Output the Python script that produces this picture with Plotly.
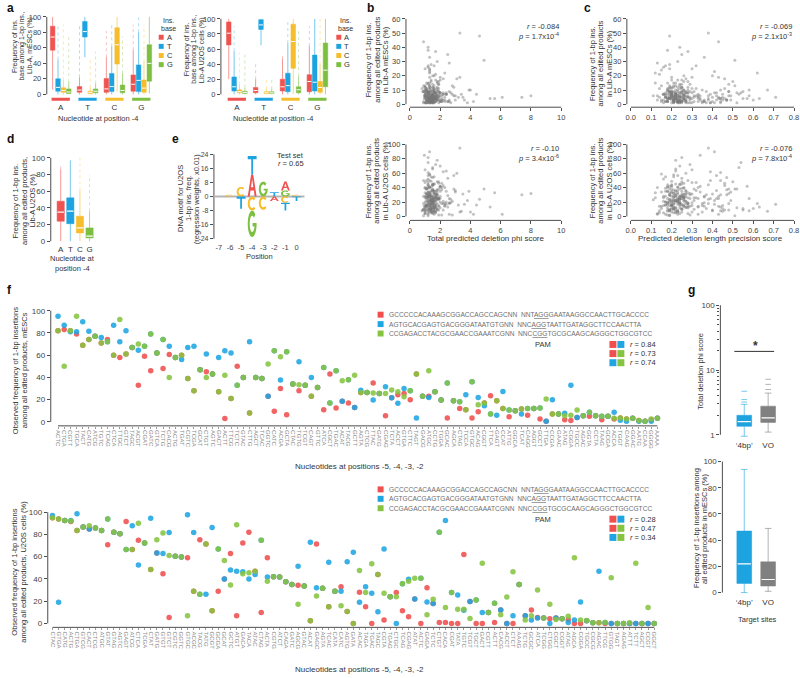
import math
import plotly.graph_objects as go

W, H = 800, 678
FONT = "Liberation Sans, Arial, Helvetica, sans-serif"
AX = "#4d4d4d"
TXT = "#333333"
RED, BLUE, YEL, GRN, GRY = "#EF5350", "#1CA3E0", "#F6BD2C", "#7CBF41", "#808080"
COL = {'A': RED, 'T': BLUE, 'C': YEL, 'G': GRN}
FRED, FBLUE, FGRN = "#EF4F4F", "#1EA5E2", "#86C440"

# ------------------------------------------------------------------ data
NUC = ['A', 'T', 'C', 'G']

# panel a (box statistics, % ; keys = inserted base, lists follow nucleotide at -4: A,T,C,G)
a_mesc_q1 = {'A': [57, 2.5, 2.5, 4], 'T': [4, 74, 3.5, 3.5], 'C': [2.5, 1, 39, 2.5], 'G': [1, 2, 2, 17]}
a_mesc_med = {'A': [74, 5.5, 7, 13], 'T': [9, 81, 10, 18], 'C': [5, 2.5, 64, 8], 'G': [3, 4, 5, 40]}
a_mesc_q3 = {'A': [88, 10, 20.5, 25], 'T': [20, 94, 27, 38], 'C': [8.5, 4, 86, 18.5], 'G': [7, 7, 12, 64]}
a_mesc_lo = {'A': [6, 0, 0, 0], 'T': [0, 48, 0, 0], 'C': [0, 0, 3.5, 0], 'G': [0, 0, 0, 1]}
a_mesc_hi = {'A': [100, 22, 48, 57], 'T': [45, 100, 62, 80], 'C': [18, 9, 100, 42], 'G': [16, 14, 27, 100]}
a_mesc_max = {'A': [100, 90, 82, 90], 'T': [90, 100, 90, 100], 'C': [90, 48, 100, 90], 'G': [78, 55, 75, 100]}

a_u2os_q1 = {'A': [65.5, 2, 4.4, 3.5], 'T': [4.4, 86, 3.5, 4.4], 'C': [2, 1, 34.5, 2.6], 'G': [1, 1, 2, 10]}
a_u2os_med = {'A': [81, 5, 10, 17], 'T': [10, 92, 11.5, 16], 'C': [3.5, 2, 70, 9], 'G': [2.5, 2, 6, 32]}
a_u2os_q3 = {'A': [96, 9, 20, 26], 'T': [23, 99, 28, 52], 'C': [6, 3.5, 93, 17], 'G': [4, 3.5, 10, 68]}
a_u2os_lo = {'A': [20, 0, 0, 0], 'T': [0, 65, 0, 0], 'C': [0, 0, 0, 0], 'G': [0, 0, 0, 0]}
a_u2os_hi = {'A': [100, 20, 47, 64], 'T': [57, 100, 68, 100], 'C': [13, 7, 100, 40], 'G': [9, 7, 24, 100]}
a_u2os_max = {'A': [100, 40, 55, 90], 'T': [90, 100, 100, 100], 'C': [55, 20, 100, 100], 'G': [55, 20, 85, 100]}

# panels b / c : per target site
phi_score = [1.2, 1.5, 0.9, 1.8, 2.3, 1.1, 1.4, 3.1, 1.6, 1.0, 2.0, 1.3, 1.7, 0.8, 2.6, 1.5, 1.2, 4.2, 1.9, 1.4,
             1.1, 1.6, 2.2, 1.3, 0.9, 1.5, 2.8, 1.2, 1.8, 1.0, 1.4, 3.5, 1.7, 1.3, 2.1, 1.6, 0.95, 1.2, 5.3, 1.5,
             1.4, 1.9, 1.1, 2.4, 1.3, 1.6, 1.0, 3.0, 1.5, 1.2, 1.8, 0.85, 2.0, 1.4, 1.7, 6.1, 1.3, 1.1, 2.5, 1.5,
             1.6, 1.2, 1.9, 1.0, 3.3, 1.4, 2.2, 1.3, 1.7, 0.9, 1.5, 2.7, 1.2, 1.8, 1.4, 4.6, 1.1, 1.6, 2.0, 1.3,
             1.5, 1.0, 2.3, 1.7, 1.2, 3.8, 1.4, 1.9, 0.9, 1.6, 1.3, 2.1, 1.5, 1.1, 2.9, 1.4, 1.8, 1.2, 7.4, 1.6,
             1.3, 2.0, 1.5, 1.0, 1.7, 2.6, 1.2, 1.4, 3.2, 1.9, 1.1, 1.6, 2.4, 1.3, 0.95, 1.5, 4.0, 1.8, 1.2, 2.2,
             1.4, 1.7, 1.0, 2.8, 1.5, 1.3, 1.9, 5.6, 1.1, 1.6, 2.1, 1.4, 1.2, 3.6, 1.8, 1.5, 0.9, 2.5, 1.3, 1.7,
             1.6, 1.2, 2.0, 1.4, 3.4, 1.1, 1.5, 2.3, 1.8, 1.0, 1.3, 2.7, 1.6, 4.9, 1.4, 1.2, 1.9, 1.5, 2.2, 1.1,
             1.7, 1.3, 3.0, 1.5, 1.0, 2.0, 1.4, 1.6, 2.6, 1.2, 8.0, 1.8, 1.3, 1.5, 2.4, 1.1, 1.7, 3.9, 1.4, 1.6,
             1.2, 2.1, 1.5, 0.9, 1.8, 2.9, 1.3, 1.6, 1.1, 4.4, 1.4, 2.0, 1.7, 1.2, 3.3, 1.5, 1.0, 2.5, 1.3, 1.9,
             1.3, 1.5, 1.1, 1.7, 1.4, 1.2, 1.6, 1.9, 1.0, 1.5, 1.3, 1.8, 1.4, 1.1, 2.1, 1.6, 1.2, 1.5, 1.7, 1.3,
             1.4, 1.0, 1.6, 1.2, 1.8, 1.5, 1.3, 2.3, 1.1, 1.6, 1.4, 1.7, 1.2, 1.5, 1.9, 1.3, 1.0, 1.6, 1.4, 2.0,
             1.5, 1.2, 1.7, 1.3, 1.1, 1.6, 1.8, 1.4, 1.2, 1.5, 2.2, 1.3, 1.6, 1.0, 1.4, 1.7, 1.2, 1.9, 1.5, 1.1,
             1.6, 1.3, 1.4, 1.8, 1.2, 1.5, 1.0, 1.7, 1.3, 2.4, 1.4, 1.6, 1.1, 1.5, 1.9, 1.2, 1.3, 1.7, 1.4, 1.6,
             1.5, 1.1, 1.8, 1.3, 1.4, 2.0, 1.2, 1.6, 1.0, 1.5, 1.7, 1.3, 1.4, 1.2, 1.6, 2.6, 1.5, 1.1, 1.3, 1.8]
precision = [0.22, 0.18, 0.31, 0.25, 0.45, 0.20, 0.16, 0.27, 0.38, 0.23, 0.52, 0.19, 0.29, 0.14, 0.42, 0.24, 0.21, 0.33, 0.48, 0.17,
             0.26, 0.36, 0.22, 0.12, 0.44, 0.28, 0.19, 0.57, 0.23, 0.30, 0.15, 0.40, 0.25, 0.21, 0.47, 0.18, 0.34, 0.24, 0.63, 0.20,
             0.23, 0.29, 0.17, 0.41, 0.21, 0.26, 0.13, 0.49, 0.22, 0.32, 0.19, 0.55, 0.24, 0.28, 0.16, 0.43, 0.20, 0.35, 0.25, 0.11,
             0.27, 0.21, 0.46, 0.18, 0.30, 0.23, 0.39, 0.15, 0.26, 0.51, 0.20, 0.24, 0.37, 0.22, 0.60, 0.19, 0.28, 0.44, 0.17, 0.25,
             0.21, 0.33, 0.26, 0.14, 0.42, 0.23, 0.19, 0.48, 0.27, 0.22, 0.36, 0.18, 0.53, 0.24, 0.31, 0.20, 0.45, 0.16, 0.29, 0.67,
             0.24, 0.19, 0.38, 0.22, 0.27, 0.13, 0.44, 0.25, 0.20, 0.50, 0.23, 0.30, 0.17, 0.41, 0.26, 0.21, 0.35, 0.58, 0.18, 0.28,
             0.22, 0.40, 0.25, 0.16, 0.47, 0.20, 0.29, 0.23, 0.12, 0.37, 0.26, 0.19, 0.54, 0.24, 0.32, 0.21, 0.43, 0.27, 0.15, 0.49,
             0.20, 0.34, 0.23, 0.18, 0.45, 0.26, 0.22, 0.62, 0.19, 0.28, 0.39, 0.24, 0.14, 0.51, 0.21, 0.25, 0.33, 0.17, 0.46, 0.23,
             0.27, 0.20, 0.42, 0.16, 0.30, 0.24, 0.55, 0.21, 0.36, 0.19, 0.48, 0.26, 0.13, 0.40, 0.22, 0.71, 0.28, 0.18, 0.44, 0.25,
             0.21, 0.35, 0.24, 0.19, 0.47, 0.23, 0.31, 0.17, 0.52, 0.26, 0.20, 0.43, 0.28, 0.15, 0.38, 0.22, 0.58, 0.25, 0.18, 0.33,
             0.21, 0.24, 0.18, 0.27, 0.22, 0.19, 0.25, 0.30, 0.16, 0.23, 0.20, 0.28, 0.24, 0.17, 0.33, 0.22, 0.26, 0.19, 0.21, 0.25,
             0.23, 0.18, 0.27, 0.20, 0.31, 0.24, 0.22, 0.36, 0.19, 0.26, 0.21, 0.29, 0.17, 0.23, 0.25, 0.20, 0.28, 0.22, 0.18, 0.34,
             0.24, 0.21, 0.26, 0.19, 0.23, 0.30, 0.20, 0.25, 0.22, 0.17, 0.27, 0.24, 0.21, 0.32, 0.19, 0.23, 0.26, 0.20, 0.29, 0.22,
             0.18, 0.25, 0.21, 0.24, 0.38, 0.20, 0.23, 0.27, 0.19, 0.22, 0.41, 0.25, 0.21, 0.18, 0.26, 0.23, 0.44, 0.20, 0.24, 0.28,
             0.22, 0.19, 0.46, 0.25, 0.21, 0.23, 0.39, 0.27, 0.20, 0.24, 0.43, 0.22, 0.18, 0.26, 0.21, 0.48, 0.24, 0.20, 0.23, 0.25]
ins_mesc = [4, 7, 2, 12, 5, 9, 3, 18, 6, 1, 8, 25, 4, 11, 3, 6, 15, 2, 9, 5,
            10, 3, 7, 22, 1, 6, 13, 4, 30, 8, 2, 5, 17, 9, 3, 11, 6, 40, 4, 7,
            2, 14, 5, 8, 1, 20, 6, 3, 10, 27, 4, 9, 2, 16, 7, 5, 12, 1, 35, 6,
            8, 3, 11, 5, 19, 2, 7, 24, 4, 13, 6, 1, 9, 15, 3, 48, 5, 10, 2, 7,
            12, 6, 3, 21, 8, 1, 5, 14, 9, 4, 33, 2, 7, 11, 6, 17, 3, 26, 5, 10,
            1, 8, 4, 13, 6, 29, 2, 9, 5, 16, 3, 11, 7, 23, 4, 1, 10, 6, 38, 8,
            5, 2, 12, 7, 3, 19, 9, 4, 15, 1, 6, 28, 8, 3, 11, 5, 44, 2, 13, 6,
            9, 4, 17, 2, 7, 10, 3, 22, 6, 12, 1, 8, 5, 31, 4, 14, 7, 2, 18, 9,
            3, 11, 6, 1, 25, 8, 4, 13, 2, 9, 6, 16, 3, 20, 7, 5, 37, 10, 4, 8,
            6, 2, 14, 9, 3, 12, 5, 27, 1, 7, 4, 19, 8, 3, 50, 6, 10, 2, 15, 5,
            3, 6, 2, 8, 5, 4, 9, 1, 7, 3, 5, 10, 2, 6, 4, 8, 3, 12, 5, 2,
            7, 4, 1, 6, 9, 3, 5, 2, 11, 4, 6, 3, 8, 2, 5, 7, 1, 4, 10, 3,
            5, 2, 6, 9, 3, 4, 7, 1, 8, 5, 3, 13, 2, 6, 4, 5, 9, 3, 1, 7,
            4, 2, 8, 5, 3, 6, 10, 2, 4, 7, 1, 5, 3, 9, 6, 2, 4, 8, 3, 5,
            2, 7, 4, 11, 3, 6, 1, 5, 8, 2, 4, 6, 3, 7, 2, 9, 5, 1, 6, 3]
ins_u2os = [22, 35, 10, 48, 15, 28, 5, 60, 18, 40, 12, 30, 72, 8, 25, 45, 20, 3, 38, 55,
            14, 27, 9, 33, 50, 19, 2, 42, 24, 65, 11, 31, 6, 22, 37, 16, 85, 28, 13, 44,
            7, 25, 39, 17, 58, 21, 4, 34, 12, 47, 29, 9, 70, 18, 26, 3, 41, 15, 53, 23,
            32, 10, 46, 20, 6, 36, 62, 14, 27, 1, 43, 19, 30, 78, 11, 24, 50, 8, 35, 17,
            26, 13, 40, 5, 57, 22, 33, 9, 18, 45, 28, 2, 68, 15, 38, 21, 11, 52, 30, 7,
            19, 42, 24, 12, 35, 3, 61, 27, 16, 48, 9, 31, 20, 90, 14, 37, 6, 25, 44, 18,
            29, 8, 39, 21, 54, 15, 2, 33, 26, 11, 46, 23, 75, 17, 36, 5, 28, 13, 59, 22,
            12, 34, 20, 41, 7, 27, 66, 18, 30, 4, 50, 24, 14, 38, 10, 82, 25, 16, 43, 31,
            21, 6, 36, 15, 47, 28, 11, 55, 19, 1, 32, 24, 40, 9, 63, 17, 26, 35, 13, 45,
            27, 18, 44, 10, 30, 57, 22, 3, 38, 16, 49, 25, 12, 34, 95, 20, 8, 29, 41, 14,
            18, 25, 12, 30, 22, 8, 35, 15, 28, 20, 10, 33, 24, 16, 40, 6, 27, 19, 13, 31,
            21, 9, 36, 17, 26, 4, 29, 14, 38, 23, 11, 32, 20, 7, 25, 34, 15, 22, 18, 42,
            27, 13, 30, 9, 24, 19, 37, 16, 5, 28, 21, 12, 33, 26, 8, 17, 39, 23, 14, 31,
            25, 10, 29, 18, 44, 20, 6, 27, 15, 35, 22, 11, 32, 19, 26, 3, 30, 16, 24, 13,
            36, 21, 9, 28, 17, 41, 25, 12, 33, 20, 14, 27, 7, 31, 23, 18, 38, 15, 26, 10]
stats_b = [("-0.084", "1.7x10<sup>-4</sup>"), ("-0.10", "3.4x10<sup>-6</sup>")]
stats_c = [("-0.069", "2.1x10<sup>-3</sup>"), ("-0.076", "7.8x10<sup>-4</sup>")]

# panel d (U2OS, box statistics by nucleotide at -4)
d_q1 = [24, 21, 10, 4]
d_med = [35, 36, 16, 6]
d_q3 = [48, 52, 30, 16]
d_lo = [0, 0, 0, 0]
d_hi = [86, 97, 61, 36]
d_max = [92, 97, 100, 80]

# panel e (sequence logo, regression weights x0.01)
logo_positions = [-7, -6, -5, -4, -3, -2, -1, 0]
logo_up_letters = [[], ['C'], ['C'], ['A', 'T'], ['G'], ['T'], ['G', 'A'], ['C']]
logo_up_heights = [[], [1.0], [5.5], [12.5, 10.5], [8.5], [2.5], [3.5, 5.0], [1.0]]
logo_down_letters = [[], [], ['T'], ['C', 'G'], ['C'], ['A'], ['C', 'T'], ['T']]
logo_down_heights = [[], [], [7.0], [8.0, 15.0], [7.5], [2.5], [3.5, 4.5], [2.5]]

# panel f (top: mESCs, bottom: U2OS)
f_top_labels = ['ACTC', 'CTGA', 'CGTT', 'TGCA', 'TACT', 'CATG', 'ATCG', 'TGTC', 'TCAG', 'CTCA',
                'TTGC', 'GTCT', 'TAGC', 'ACGT', 'CGAT', 'GATC', 'GTCA', 'TCTG', 'CACG', 'ACTG',
                'TGAT', 'CGTC', 'TCGA', 'GCAT', 'CTGT', 'AGTC', 'GACT', 'ACTT', 'TTCG', 'TCTC',
                'GTAC', 'CTTG', 'AGCT', 'TCAC', 'GGTC', 'CATC', 'ACGA', 'GCTA', 'CTAC', 'TGTG',
                'TCGT', 'CAGT', 'GTTC', 'ATCA', 'CGCT', 'TGAC', 'ACAT', 'TACG', 'GCTT', 'AGTA',
                'CTCG', 'TTAC', 'GATG', 'CGAG', 'TCTA', 'ACCT', 'GTGA', 'CTTC', 'TAGT', 'GACG',
                'ATGC', 'CCTG', 'TGGA', 'GCAC', 'AGCA', 'CTAG', 'TCCA', 'GTGC', 'ACAG', 'CGGT',
                'TTCA', 'GAGT', 'CCAT', 'ATTG', 'GGCA', 'TCAT', 'CAGG', 'AGGT', 'GCCT', 'TTGA',
                'CCGA', 'GAAC', 'ATAG', 'CGGA', 'TGCC', 'AGAC', 'GGTA', 'CCTA', 'TAAG', 'GCGA',
                'ACCA', 'TGGT', 'CAAG', 'GGAC', 'AATG', 'CCAA', 'GGGG', 'AAAA']
f_top_red = [82, 83, 82, 79, 69, 74, 77, 71, 74, 60,
             58, 61, 67, 33, 59, 46, 62, 48, 60.6, 58,
             60, 39, 28, 47, 45, 43, 27, 3, 21, 50,
             40, 8, 40, 39, 23, 9.5, 30, 6.5, 34, 28,
             33, 23, 31, 11, 43, 12.5, 18.5, 17, 13, 26.5,
             26.5, 35, 25.6, 5.6, 21.7, 24.4, 25.6, 20, 43, 23,
             23, 27, 19.6, 3.6, 19, 12, 11, 3.6, 9, 17,
             23.5, 19, 12, 4.7, 10, 11.6, 6, 12, 2.7, 0.6,
             7, 7, 2, 1.2, 4, 5.6, 5, 5.6, 2, 5,
             2.7, 3.6, 2.7, 3.3, 1.2, 0.6, 2, 3.3]
f_top_blue = [95, 87, 81, 81, 90, 81.5, 77, 76, 72, 87,
              72, 82, 67, 64.5, 68, 79, 62, 74, 68, 58,
              56, 67, 68, 47, 61, 43, 58, 64, 62, 33,
              40, 72, 40, 39, 23, 64, 37.6, 63, 34, 54,
              33, 40, 31, 49, 17, 46, 18.5, 38, 13, 28.5,
              26.5, 19.6, 25.6, 31.5, 21.7, 16.7, 30, 28, 3.6, 23,
              22, 27, 19.6, 35, 19, 18, 24.4, 36, 22, 14.6,
              7, 6, 27.4, 10.7, 10, 7, 12, 12, 12.5, 0.6,
              20, 7, 7.7, 33, 4, 5.6, 8.6, 5.6, 5, 5,
              8.6, 1.5, 0.6, 3.3, 0.6, 0.6, 0.6, 3.3]
f_top_green = [82, 50, 82, 95, 69, 74, 77, 71, 72, 60,
               92, 61, 67, 70, 68, 79, 62, 74, 40, 58,
               60, 39, 28, 47, 40, 43, 27, 42, 21, 33,
               40, 8, 40, 39, 52, 64, 58.5, 63, 34, 33.4,
               33, 23, 31, 49, 17, 46, 37, 38, 42, 26.5,
               26.5, 26, 25.6, 25.6, 28.6, 27, 22.6, 28, 43, 23,
               46, 27, 19.6, 35, 19, 18, 11, 36, 15.5, 17,
               7, 19, 12, 10.7, 10, 11.6, 12, 12, 12.5, 20.5,
               7, 7, 5.6, 6, 10.7, 5.6, 8.6, 5.6, 5, 5,
               3.3, 3.6, 2.7, 3.3, 1.2, 0.6, 2.7, 3.3]

f_bot_labels = ['CTAC', 'GTGA', 'CATG', 'ACTG', 'CTGA', 'GTCG', 'CACT', 'CTCG', 'ATGC', 'GTAT',
                'GTAG', 'AGTC', 'GAGT', 'ATCG', 'CTCA', 'TCGA', 'CTAT', 'GATG', 'GTGT', 'GTCT',
                'CGTC', 'GGTC', 'GTGC', 'ACGC', 'TACG', 'TATG', 'GCGT', 'GCGA', 'GCAT', 'GCTC',
                'ATGT', 'GACA', 'TACA', 'ATAC', 'CTAG', 'ACTA', 'CGTG', 'ATCT', 'CAGA', 'GATC',
                'AGCG', 'GTAC', 'ACAT', 'GAGC', 'AGTA', 'TCAC', 'CATA', 'CATC', 'AGTG', 'GATA',
                'ACAC', 'TAGA', 'TGAC', 'TAGC', 'CGTA', 'TGAG', 'CTGC', 'TCAG', 'CGAG', 'ATAT',
                'ACTC', 'GAGA', 'TCTC', 'CTGT', 'CACA', 'CGAT', 'TATA', 'TGTC', 'TCGT', 'TGCT',
                'GACT', 'CGTT', 'ACTT', 'CACG', 'ACCT', 'CTCT', 'AAAG', 'TCTG', 'GCGC', 'ATCA',
                'TCGG', 'CTGG', 'CGCT', 'CGGT', 'ATAG', 'AGCA', 'CGGA', 'TGCC', 'CGCG', 'AGAC',
                'TTCG', 'GTGG', 'TAGT', 'AGAG', 'ATTT', 'TCTT', 'AGCT', 'CCGT', 'GGCT']
f_bot_red = [95, 94, 92.5, 91.7, 83.6, 86.6, 84.8, 85.7, 83.6, 70.8,
             82, 80.6, 91.7, 66.4, 74.7, 72.3, 48.5, 63.4, 44.6, 5.4,
             60.4, 59.8, 59, 29, 75.3, 71.4, 11.3, 29, 40, 62.8,
             6.8, 72.3, 82, 47, 9.8, 59, 42, 41.7, 37.5, 35,
             34.2, 33.6, 2.4, 71.4, 31.5, 15, 29, 33, 10.7, 0,
             28, 15, 0, 44, 3, 24, 27.7, 11.3, 6, 22,
             0, 32, 17.9, 0.9, 0.9, 0, 0, 62, 19.6, 0,
             0, 9.8, 0.9, 12, 0, 0, 35, 6.8, 12, 5.4,
             4.8, 4.2, 4.8, 4.2, 3.3, 0, 0, 2.4, 0.6, 0.6,
             0, 0, 0, 0, 0, 0, 0, 0, 0]
f_bot_blue = [97, 19, 92.5, 92.5, 98.5, 86.6, 84.8, 85.7, 83.6, 94,
              82, 80.6, 66.4, 87.8, 52.4, 72.3, 94.6, 63.4, 62.8, 81.8,
              60.4, 59.8, 97.6, 81.8, 26.2, 26.2, 86.3, 67, 40, 48,
              47, 46.4, 40, 44, 74.7, 41.7, 42, 41.7, 37.5, 35,
              51.5, 33.6, 73, 32, 31.5, 55, 29, 29, 55.4, 64,
              19, 33, 27, 10.4, 67, 24, 0, 35.7, 39.6, 22,
              40.5, 19.3, 17.9, 82, 92.6, 27.7, 25.6, 11.9, 19.6, 21,
              9.8, 9.8, 18, 12, 0, 6.8, 35, 6.8, 3, 4.8,
              4.8, 0, 4.8, 4.2, 0.9, 3, 19.3, 2.4, 0.6, 47,
              0.9, 0, 0, 0, 0, 0, 0, 0, 0]
f_bot_green = [95, 94, 92.5, 92, 83.6, 86.6, 87.8, 85.7, 83.6, 94,
               82, 80.6, 66.4, 66.4, 90, 72.3, 48.5, 75.3, 81.3, 61,
               60.4, 59.8, 6.8, 29, 26.2, 71.4, 11.3, 67, 56.5, 34.5,
               88.7, 44.6, 45.5, 47, 74.7, 38, 42, 41.7, 37.5, 35,
               17.3, 33.6, 2.4, 24.7, 31.5, 15, 29, 15.8, 10.7, 0,
               47.6, 27.7, 53.6, 44, 27, 24, 24, 35.7, 38, 40.5,
               40.5, 7.7, 21.7, 82, 14.3, 27.7, 12.8, 12.8, 4.5, 21,
               54, 9.8, 18, 7.7, 23.8, 46.4, 35, 3, 6.8, 30,
               4.8, 17.3, 3.6, 4.2, 6.5, 59, 3, 2.7, 0.6, 0.6,
               0.9, 41, 0, 0, 0.6, 54, 0, 14.3, 0]
f_seqs = [("GCCCCCACAAAGCGGACCAGCCAGCNN", "NNT", "AGG", "GAATAAGGCCAACTTGCACCCC"),
          ("AGTGCACGAGTGACGGGATAATGTGNN", "NNC", "AGG", "TAATTGATAGGCTTCCAACTTA"),
          ("CCGAGACCTACGCGAACCGAAATCGNN", "NNC", "CGG", "TGCGCAAGCAGGGCTGGCGTCC")]
f_top_r = ["0.84", "0.73", "0.74"]
f_bot_r = ["0.28", "0.47", "0.34"]

# panel g
g_labels = ["\u20184bp\u2019", "VO"]
g_phi_q1 = [1.35, 1.55]
g_phi_med = [1.6, 1.82]
g_phi_q3 = [2.0, 2.77]
g_phi_lo = [0.95, 1.1]
g_phi_hi = [2.95, 4.4]
g_phi_out = [[3.2, 3.5, 4.7], [5.0, 6.0, 7.2]]
g_ins_q1 = [7, 5]
g_ins_med = [22, 10]
g_ins_q3 = [47, 23.5]
g_ins_lo = [0, 1]
g_ins_hi = [94, 49]

# ------------------------------------------------------------------ helpers
fig = go.Figure()
layout = {}
shapes = []
annots = []


def rid(n):
    return '' if n == 1 else str(n)


def rng(p0, p1, pa, va, pb, vb):
    s = (vb - va) / (pb - pa)
    return [va + (p0 - pa) * s, va + (p1 - pa) * s]


def tfont(size=8, color='#444'):
    return dict(size=size, color=color, family=FONT)


def add_axes(n, box, xr, yr, xkw=None, ykw=None):
    x0, x1, y0, y1 = box
    base = dict(showgrid=False, zeroline=False, showline=False, ticks='', showticklabels=False,
                fixedrange=True, ticklen=3, tickwidth=1, tickcolor=AX, ticklabeloverflow='allow')
    xa = dict(base, domain=[x0 / W, x1 / W], range=xr, anchor='y' + rid(n), tickfont=tfont())
    ya = dict(base, domain=[1 - y1 / H, 1 - y0 / H], range=yr, anchor='x' + rid(n), tickfont=tfont())
    if xkw:
        xa.update(xkw)
    if ykw:
        ya.update(ykw)
    layout['xaxis' + rid(n)] = xa
    layout['yaxis' + rid(n)] = ya


def yticks(vals, size=8, text=None):
    d = dict(tickvals=vals, ticks='outside', showticklabels=True, tickfont=tfont(size))
    if text:
        d['ticktext'] = text
    return d


def vline(n, y0, y1):
    shapes.append(dict(type='line', xref='x' + rid(n) + ' domain', x0=0, x1=0, yref='y' + rid(n),
                       y0=y0, y1=y1, line=dict(color=AX, width=1)))


def hline(n, x0, x1):
    shapes.append(dict(type='line', yref='y' + rid(n) + ' domain', y0=0, y1=0, xref='x' + rid(n),
                       x0=x0, x1=x1, line=dict(color=AX, width=1)))


def T(x, y, text, size=8, xanchor='center', angle=0, color=TXT, yanchor='middle'):
    annots.append(dict(x=x / W, y=1 - y / H, xref='paper', yref='paper', text=text, showarrow=False,
                       font=dict(size=size, color=color, family=FONT), xanchor=xanchor, yanchor=yanchor,
                       textangle=angle))


def vtitle(xc, yc, lines, spacing, size=7.5):
    n = len(lines)
    for k, s in enumerate(lines):
        T(xc + (k - (n - 1) / 2) * spacing, yc, s, size=size, angle=-90)


def sq(cx, cy, s, color):
    shapes.append(dict(type='rect', xref='paper', yref='paper', x0=(cx - s / 2) / W, x1=(cx + s / 2) / W,
                       y0=1 - (cy + s / 2) / H, y1=1 - (cy - s / 2) / H, fillcolor=color, line=dict(width=0)))


def rgba(h, a):
    h = h.lstrip('#')
    return 'rgba(%d,%d,%d,%.2f)' % (int(h[0:2], 16), int(h[2:4], 16), int(h[4:6], 16), a)


def boxes(n, xs, q1, med, q3, lo, hi, color, w, wcolor, cap=0.0, omax=None, mline=1.2):
    xr, yr = 'x' + rid(n), 'y' + rid(n)
    if omax:
        ox, oy = [], []
        for x, h, o in zip(xs, hi, omax):
            if o > h:
                ox += [x, x, None]
                oy += [h, o, None]
        fig.add_trace(go.Scatter(x=ox, y=oy, mode='lines', xaxis=xr, yaxis=yr, hoverinfo='skip',
                                 line=dict(color=rgba(wcolor, 0.35), width=1, dash='dot')))
    wx, wy = [], []
    for x, a, b, c, d in zip(xs, lo, q1, q3, hi):
        wx += [x, x, None, x, x, None]
        wy += [a, b, None, c, d, None]
        if cap:
            wx += [x - cap / 2, x + cap / 2, None, x - cap / 2, x + cap / 2, None]
            wy += [a, a, None, d, d, None]
    fig.add_trace(go.Scatter(x=wx, y=wy, mode='lines', xaxis=xr, yaxis=yr, hoverinfo='skip',
                             line=dict(color=rgba(wcolor, 0.6), width=1)))
    fig.add_trace(go.Box(x=xs, q1=q1, median=med, q3=q3, lowerfence=q1, upperfence=q3, width=w,
                         fillcolor=color, line=dict(color=color, width=0.5), boxpoints=False,
                         whiskerwidth=0, xaxis=xr, yaxis=yr, hoverinfo='skip', orientation='v'))
    mx, my = [], []
    for x, m in zip(xs, med):
        mx += [x - w * 0.45, x + w * 0.45, None]
        my += [m, m, None]
    fig.add_trace(go.Scatter(x=mx, y=my, mode='lines', xaxis=xr, yaxis=yr, hoverinfo='skip',
                             line=dict(color='white', width=mline)))


# ------------------------------------------------------------------ panel a
OFF = [-0.3, -0.1, 0.1, 0.3]
for n, box, axpx, gpx, ytop, stats, lx in [
        (1, (46, 158, 13, 100), 60, 27, 15, (a_mesc_q1, a_mesc_med, a_mesc_q3, a_mesc_lo, a_mesc_hi, a_mesc_max), 161),
        (2, (221, 335, 15, 100), 237, 27, 17, (a_u2os_q1, a_u2os_med, a_u2os_q3, a_u2os_lo, a_u2os_hi, a_u2os_max), 339.5)]:
    xr = rng(box[0], box[1], axpx, 0, axpx + 3 * gpx, 3)
    yr = rng(box[3], box[2], 93, 0, ytop, 100)
    add_axes(n, box, xr, yr,
             xkw=dict(tickvals=[0, 1, 2, 3], ticktext=NUC, showticklabels=True, tickfont=tfont(8, '#333')),
             ykw=yticks([0, 20, 40, 60, 80, 100], 7.5))
    vline(n, 0, 100)
    q1, med, q3, lo, hi, mx = stats
    for k, b in enumerate(NUC):
        xs = [g + OFF[k] for g in range(4)]
        boxes(n, xs, q1[b], med[b], q3[b], lo[b], hi[b], COL[b], 0.17, COL[b], omax=mx[b], mline=1.0)
    for g, b in enumerate(NUC):
        fig.add_trace(go.Scatter(x=[g - 0.34, g + 0.34], y=[-6.5, -6.5], mode='lines', xaxis='x' + rid(n),
                                 yaxis='y' + rid(n), line=dict(color=COL[b], width=3), hoverinfo='skip'))
    T(lx + 7, 19, "Ins.", 7)
    T(lx + 7, 27, "base", 7)
    for k, b in enumerate(NUC):
        cy = [35.5, 44.7, 53.9, 63.1][k]
        sq(lx, cy, 5, COL[b])
        T(lx + 3.5, cy, b, 7.5, xanchor='left')
vtitle(21, 44, ["Frequency of ins.", "base among 1-bp ins.,", "Lib-A, mESCs (%)"], 7.5, 7)
vtitle(194, 48, ["Frequency of ins.", "base among 1-bp ins.,", "Lib-A U2OS cells (%)"], 7.5, 7)
T(97, 117, "Nucleotide at position -4", 7.5)
T(273, 117, "Nucleotide at position -4", 7.5)

# ------------------------------------------------------------------ panels b / c
SC = dict(size=3.0, color='rgba(120,120,120,0.45)')
bc_specs = [
    (3, (407, 566, 15, 106), phi_score, ins_mesc, 'b', 0), (4, (629, 799, 15, 106), precision, ins_mesc, 'c', 0),
    (5, (407, 566, 141, 220), phi_score, ins_u2os, 'b', 1), (6, (629, 799, 141, 220), precision, ins_u2os, 'c', 1)]
for n, box, xv, yv, kind, row in bc_specs:
    if kind == 'b':
        xr = rng(box[0], box[1], 411, 0, 563, 10)
        xk = dict(tickvals=[0, 2, 4, 6, 8, 10], ticks='outside', showticklabels=True, tickfont=tfont(7.5))
        xmax = 10
    else:
        xr = rng(box[0], box[1], 633, 0, 797, 0.8)
        xk = dict(tickvals=[0, 0.1, 0.2, 0.3, 0.4, 0.5, 0.6, 0.7, 0.8],
                  ticktext=['0.0', '0.1', '0.2', '0.3', '0.4', '0.5', '0.6', '0.7', '0.8'],
                  ticks='outside', showticklabels=True, tickfont=tfont(7.5))
        xmax = 0.8
    if row == 0:
        yr = rng(box[3], box[2], 103, 0, 17, 60)
        yk = yticks([0, 10, 20, 30, 40, 50, 60], 7.5)
        ymax = 60
    else:
        yr = rng(box[3], box[2], 216, 0, 158, 80)
        yk = yticks([0, 20, 40, 60, 80, 100], 7.5)
        ymax = 100
    add_axes(n, box, xr, yr, xkw=xk, ykw=yk)
    vline(n, 0, ymax)
    hline(n, 0, xmax)
    fig.add_trace(go.Scatter(x=xv, y=yv, mode='markers', marker=SC, xaxis='x' + rid(n), yaxis='y' + rid(n),
                             hoverinfo='skip'))
    st = (stats_b if kind == 'b' else stats_c)[row]
    rx = 563 if kind == 'b' else 797
    ry = 25 if row == 0 else 148
    T(rx, ry, "<i>r</i> = " + st[0], 7.5, xanchor='right')
    T(rx, ry + 9, "<i>p</i> = " + st[1], 7.5, xanchor='right')

vtitle(378, 58, ["Frequency of 1-bp ins.", "among all edited products", "in Lib-A mESCs (%)"], 8.5, 7.5)
vtitle(378, 180, ["Frequency of 1-bp ins.", "among all edited products", "in Lib-A U2OS cells (%)"], 8.5, 7.5)
vtitle(603, 62, ["Frequency of 1-bp ins.", "among all edited products", "in Lib-A mESCs (%)"], 8.5, 7.5)
vtitle(603, 180, ["Frequency of 1-bp ins.", "among all edited products", "in Lib-A U2OS cells (%)"], 8.5, 7.5)
T(487, 238, "Total predicted deletion phi score", 8)
T(713, 238, "Predicted deletion length precision score", 8)

# ------------------------------------------------------------------ panel d
add_axes(7, (50, 96, 155, 243), rng(50, 96, 60, 0, 89, 3), rng(243, 155, 241, 0, 157, 100),
         xkw=dict(tickvals=[0, 1, 2, 3], ticktext=NUC, showticklabels=True, tickfont=tfont(8, '#333')),
         ykw=yticks([0, 20, 40, 60, 80, 100], 8))
vline(7, 0, 100)
for k, b in enumerate(NUC):
    boxes(7, [k], [d_q1[k]], [d_med[k]], [d_q3[k]], [d_lo[k]], [d_hi[k]], COL[b], 0.75, COL[b],
          omax=[d_max[k]], mline=1.2)
vtitle(23.5, 200, ["Frequency of 1-bp ins.", "among all edited products,", "Lib-A U2OS (%)"], 8.5, 7.5)
T(72, 258, "Nucleotide at", 7.5)
T(72, 268, "position -4", 7.5)

# ------------------------------------------------------------------ panel e (sequence logo)
add_axes(8, (214, 305, 150, 241), rng(214, 305, 219, -7, 297, 0), rng(241, 150, 196, 0, 153.5, 24),
         xkw=dict(tickvals=logo_positions, ticktext=[str(p) for p in logo_positions], showticklabels=True,
                  tickfont=tfont(7.5)),
         ykw=yticks([-24, -16, -8, 0, 8, 16, 24], 7, ['-24', '-16', '-8', '0', '8', '16', '24']))
vline(8, -24, 24)
shapes.append(dict(type='line', xref='x8 domain', x0=0, x1=1, yref='y8', y0=0, y1=0,
                   line=dict(color='#b5b5b5', width=2)))


def arc(cx, cy, rx, ry, a0, a1, steps):
    return [(cx + rx * math.cos(math.radians(a0 + (a1 - a0) * i / steps)),
             cy + ry * math.sin(math.radians(a0 + (a1 - a0) * i / steps))) for i in range(steps + 1)]


GLYPHS = {
    'T': [[(0, 1), (1, 1), (1, 0.83), (0.6, 0.83), (0.6, 0), (0.4, 0), (0.4, 0.83), (0, 0.83)]],
    'A': [[(0, 0), (0.38, 1), (0.62, 1), (1, 0), (0.78, 0), (0.69, 0.27), (0.31, 0.27), (0.22, 0)],
          [(0.37, 0.42), (0.5, 0.8), (0.63, 0.42)]],
    'C': [arc(0.5, 0.5, 0.5, 0.5, 45, 315, 30) + arc(0.5, 0.5, 0.28, 0.31, 315, 45, 30)],
    'G': [arc(0.5, 0.5, 0.5, 0.5, 45, 352, 30) + [(1.0, 0.53), (0.55, 0.53), (0.55, 0.4), (0.78, 0.4)]
          + arc(0.5, 0.5, 0.28, 0.31, 340, 45, 30)],
}


def glyph_path(letter, xc, y0, y1, w=0.8):
    parts = []
    for poly in GLYPHS[letter]:
        pts = [(xc - w / 2 + u * w, y0 + v * (y1 - y0)) for u, v in poly]
        parts.append('M ' + ' L '.join('%.4f,%.4f' % p for p in pts) + ' Z')
    return ' '.join(parts)


for pos, ul, uh, dl, dh in zip(logo_positions, logo_up_letters, logo_up_heights, logo_down_letters,
                               logo_down_heights):
    y = 0.0
    for L, h in zip(ul, uh):
        shapes.append(dict(type='path', xref='x8', yref='y8', path=glyph_path(L, pos, y, y + h),
                           fillcolor=COL[L], line=dict(width=0), fillrule='evenodd'))
        y += h
    y = 0.0
    for L, h in zip(dl, dh):
        shapes.append(dict(type='path', xref='x8', yref='y8', path=glyph_path(L, pos, y - h, y),
                           fillcolor=COL[L], line=dict(width=0), fillrule='evenodd'))
        y -= h
vtitle(188.5, 198, ["DNA motif for U2OS", "1-bp ins. freq.", "(regression weights, x0.01)"], 8.2, 7.5)
T(260, 256, "Position", 7.5)
T(291, 155, "Test set", 7.5)
T(291, 163, "<i>r</i> = 0.65", 7.5)

# ------------------------------------------------------------------ panel f
for n, box, x0px, xlast, labels, reds, blues, greens, y0px, y100px, leg_y, rvals, ytitle in [
        (9, (50, 665, 305, 427), 57.3, 659.7, f_top_labels, f_top_red, f_top_blue, f_top_green, 423, 311, 315,
         f_top_r, ["Observed frequency of 1-bp insertions", "among all edited products, mESCs"]),
        (10, (47, 665, 508, 630), 51.7, 656.5, f_bot_labels, f_bot_red, f_bot_blue, f_bot_green, 626, 514, 491,
         f_bot_r, ["Observed frequency of 1-bp insertions", "among all edited products, U2OS cells (%)"])]:
    N = len(labels)
    add_axes(n, box, rng(box[0], box[1], x0px, 0, xlast, N - 1), rng(box[3], box[2], y0px, 0, y100px, 100),
             xkw=dict(tickvals=list(range(N)), ticktext=labels, tickangle=90, ticks='outside', ticklen=2,
                      tickcolor='#999', showticklabels=True, tickfont=tfont(6, '#8a8a8a')),
             ykw=yticks([0, 20, 40, 60, 80, 100], 8))
    vline(n, 0, 100)
    hline(n, 0, N - 1)
    xs = list(range(N))
    for vals, c in [(reds, FRED), (blues, FBLUE), (greens, FGRN)]:
        fig.add_trace(go.Scatter(x=xs[:len(vals)], y=vals, mode='markers', xaxis='x' + rid(n), yaxis='y' + rid(n),
                                 marker=dict(size=5.5, color=c, opacity=0.88), hoverinfo='skip'))
    for k, (s1, s2, pam, s3) in enumerate(f_seqs):
        cy = leg_y + k * 9.5
        sq(381.5, cy, 6, [FRED, FBLUE, FGRN][k])
        T(388, cy, s1 + "\u00a0\u00a0" + s2 + "<u>" + pam + "</u>" + s3, 6.6, xanchor='left', color='#6e6e6e')
    T(545, leg_y + 30, "PAM", 7.5)
    pairs = [(FRED, FBLUE), (FRED, FGRN), (FBLUE, FGRN)]
    for k, (c1, c2) in enumerate(pairs):
        cy = leg_y + 30 + k * 9.2
        sq(615, cy, 7, c1)
        sq(623, cy, 7, c2)
        T(630, cy, "<i>r</i> = " + rvals[k], 7.5, xanchor='left')
    yc = (y0px + y100px) / 2 + 4
    vtitle(18.5, yc, ytitle, 9, 7.5)
T(360, 468, "Nucleotides at positions -5, -4, -3, -2", 8)
T(360, 672, "Nucleotides at positions -5, -4, -3, -2", 8)

# ------------------------------------------------------------------ panel g
gyr = rng(440, 300, 436, 0, 305.5, 2)
add_axes(11, (723, 792, 300, 440), rng(723, 792, 747, 0, 771, 1), gyr,
         xkw=dict(tickvals=[0, 1], ticktext=g_labels, showticklabels=True, tickfont=tfont(8, '#333')),
         ykw=dict(type='log', tickvals=[1, 10, 100], ticks='outside', showticklabels=True, tickfont=tfont(8),
                  minor=dict(tickvals=[2, 3, 4, 5, 6, 7, 8, 9, 20, 30, 40, 50, 60, 70, 80, 90],
                             ticks='outside', ticklen=2, tickcolor=AX)))
span = gyr[1] - gyr[0]
shapes.append(dict(type='line', xref='x11 domain', x0=0, x1=0, yref='y11 domain',
                   y0=(0 - gyr[0]) / span, y1=(2 - gyr[0]) / span, line=dict(color=AX, width=1)))
gcol = [BLUE, GRY]
for k in range(2):
    boxes(11, [k], [g_phi_q1[k]], [g_phi_med[k]], [g_phi_q3[k]], [g_phi_lo[k]], [g_phi_hi[k]], gcol[k], 0.62,
          gcol[k], cap=0.28, mline=1.2)
    fig.add_trace(go.Scatter(x=[k] * len(g_phi_out[k]), y=g_phi_out[k], mode='markers', xaxis='x11', yaxis='y11',
                             marker=dict(symbol='line-ew', size=4, line=dict(color=rgba(gcol[k], 0.6), width=1)),
                             hoverinfo='skip'))
vtitle(703, 372, ["Total deletion phi score"], 8, 7.5)
shapes.append(dict(type='line', xref='paper', yref='paper', x0=737 / W, x1=777 / W, y0=1 - 352 / H, y1=1 - 352 / H,
                   line=dict(color='#333', width=1)))
T(758, 347, "<b>*</b>", 12)

add_axes(12, (725, 792, 460, 598), rng(725, 792, 747, 0, 771, 1), rng(598, 460, 595, 0, 463, 100),
         xkw=dict(tickvals=[0, 1], ticktext=g_labels, showticklabels=True, tickfont=tfont(8, '#333')),
         ykw=yticks([0, 20, 40, 60, 80, 100], 8))
vline(12, 0, 100)
for k in range(2):
    boxes(12, [k], [g_ins_q1[k]], [g_ins_med[k]], [g_ins_q3[k]], [g_ins_lo[k]], [g_ins_hi[k]], gcol[k], 0.62,
          gcol[k], cap=0.28, mline=1.2)
vtitle(702.5, 530, ["Frequency of 1-bp insertions among", "all edited products in mESCs (%)"], 8, 7.5)
T(760, 622, "Target sites", 7.5)

# ------------------------------------------------------------------ panel letters
for s, x, y in [('a', 4, 6), ('b', 366, 6), ('c', 584, 6), ('d', 4, 138), ('e', 170, 138), ('f', 4, 290),
                ('g', 688, 290)]:
    T(x, y, "<b>%s</b>" % s, 12, xanchor='left', color='#111')

fig.update_layout(**layout)
fig.update_layout(width=W, height=H, margin=dict(l=0, r=0, t=0, b=0), paper_bgcolor='white',
                  plot_bgcolor='white', showlegend=False, font=dict(family=FONT, size=8, color=TXT),
                  shapes=shapes, annotations=annots)
fig.write_html("out.html", config={'displayModeBar': False, 'staticPlot': True},
               post_script="document.body.style.margin='0px';document.body.style.padding='0px';")
